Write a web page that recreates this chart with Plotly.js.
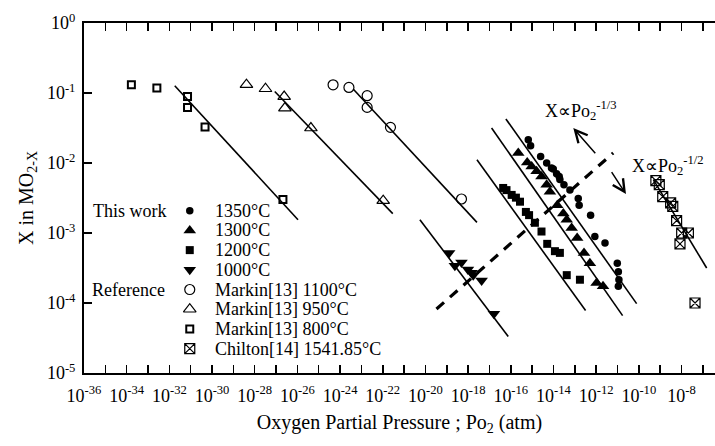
<!DOCTYPE html>
<html>
<head>
<meta charset="utf-8">
<script src="https://cdn.plot.ly/plotly-3.0.1.min.js"></script>
<style>html,body{margin:0;padding:0;background:#fff}#chart{width:715px;height:446px}</style>
</head>
<body>
<div id="chart"></div>
<script>
// ---- data ----
const x1350 = [6.6e-16, 8.5e-16, 2.5e-15, 4.8e-15, 8.1e-15, 9.8e-15, 1.4e-14, 1.86e-14, 2.0e-14, 3.1e-14, 5.9e-14, 1.45e-13, 1.6e-13, 5.5e-13, 8.7e-13, 2.6e-12, 9.8e-12, 1.1e-11, 1.17e-11, 1.1e-11];
const y1350 = [0.0215, 0.0177, 0.0124, 0.0100, 0.0085, 0.0082, 0.0070, 0.0064, 0.0058, 0.0049, 0.0041, 0.0031, 0.0025, 0.0018, 8.9e-4, 7.2e-4, 3.7e-4, 2.8e-4, 2.15e-4, 1.73e-4];
const x1300 = [2.24e-16, 5.9e-16, 9.5e-16, 1.62e-15, 2.75e-15, 4.8e-15, 6.8e-15, 1.5e-14, 2.9e-14, 4.2e-14, 7.1e-14, 1.29e-13, 2.7e-13, 5.1e-13, 1.05e-12, 2.1e-12];
const y1300 = [0.0139, 0.0102, 0.0089, 0.0076, 0.0064, 0.0049, 0.0039, 0.0025, 0.0019, 0.00155, 0.00118, 8.5e-4, 5.2e-4, 3.7e-4, 1.93e-4, 1.73e-4];
const x1200 = [4.4e-17, 6.3e-17, 1.1e-16, 1.74e-16, 2.7e-16, 5.1e-16, 7.2e-16, 1.35e-15, 2.75e-15, 5.1e-15, 1.17e-14, 2.0e-14, 4.2e-14, 1.74e-13];
const y1200 = [0.0044, 0.0041, 0.0035, 0.0032, 0.0028, 0.0020, 0.0018, 0.0014, 0.00105, 7.0e-4, 5.5e-4, 5.2e-4, 2.5e-4, 2.15e-4];
const x1000 = [1.29e-19, 2.4e-19, 4.9e-19, 9.8e-19, 1.45e-18, 1.74e-18, 4.3e-18, 1.62e-17];
const y1000 = [5.2e-4, 3.4e-4, 3.8e-4, 3.0e-4, 2.7e-4, 2.5e-4, 2.1e-4, 7.0e-5];
const xM1100 = [4.7e-25, 2.6e-24, 1.86e-23, 1.86e-23, 2.3e-22, 4.9e-19];
const yM1100 = [0.131, 0.120, 0.0915, 0.0623, 0.0323, 0.00306];
const xM950 = [4.1e-29, 3.2e-28, 2.4e-27, 2.6e-27, 4.3e-26, 1.05e-22];
const yM950 = [0.1315, 0.115, 0.089, 0.061, 0.0316, 0.0029];
const xM800 = [1.66e-34, 2.6e-33, 7.1e-32, 7.1e-32, 4.7e-31, 2.1e-27];
const yM800 = [0.131, 0.118, 0.089, 0.062, 0.0327, 0.0030];
const xChilton = [6.3e-10, 9.1e-10, 1.32e-9, 3.1e-9, 3.9e-9, 5.9e-9, 1.02e-8, 2.1e-8, 8.5e-9, 4.3e-8];
const yChilton = [0.0056, 0.0049, 0.0033, 0.0027, 0.0024, 0.0015, 0.0010, 0.0010, 7.0e-4, 1.0e-4];

// fitted lines: [start, end]
const fitX800 = [1.79e-32, 1.07e-26],  fitY800 = [0.127, 1.55e-3];
const fitX950 = [8.7e-28, 2.95e-22],  fitY950 = [0.105, 1.89e-3];
const fitX1100 = [4.1e-24, 2.6e-18], fitY1100 = [0.114, 1.42e-3];
const fitX1000 = [5.5e-21, 7.6e-17], fitY1000 = [1.55e-3, 3.33e-5];
const fitX1200 = [2.6e-18, 3.2e-13], fitY1200 = [0.0111, 7.8e-5];
const fitX1300 = [1.26e-17, 1.74e-11], fitY1300 = [0.0316, 6.6e-5];
const fitX1350 = [5.9e-17, 7.9e-11], fitY1350 = [0.0426, 9.8e-5];
const fitXChilton = [4.8e-10, 1.51e-7], fitYChilton = [5.8e-3, 3.16e-4];
const boundX = [3.3e-20, 6.3e-12], boundY = [8.2e-5, 0.0139];

// arrows: [tail, head]
const arrow13X = [1.05e-12, 8.5e-14], arrow13Y = [0.0131, 0.0316];
const arrow12X = [4.8e-12, 2.5e-11], arrow12Y = [0.0078, 0.0036];

const seriesNames = ['1350°C', '1300°C', '1200°C', '1000°C', 'Markin[13] 1100°C', 'Markin[13] 950°C', 'Markin[13] 800°C', 'Chilton[14] 1541.85°C'];
const groupLabels = ['This work', 'Reference'];
const slopeLabels = ['X∝Po<sub>2</sub><sup>-1/3</sup>', 'X∝Po<sub>2</sub><sup>-1/2</sup>'];

const xTickVals = [];
const xTickText = [];
for (let e = -36; e <= -7; e++) { xTickVals.push(Math.pow(10, e)); xTickText.push(e % 2 === 0 ? '10<sup>' + e + '</sup>' : ''); }
const yTickVals = [1, 1e-1, 1e-2, 1e-3, 1e-4, 1e-5];
const yTickText = ['10<sup>0</sup>', '10<sup>-1</sup>', '10<sup>-2</sup>', '10<sup>-3</sup>', '10<sup>-4</sup>', '10<sup>-5</sup>'];

// ---- styles ----
const FONT = 'Liberation Serif, Times New Roman, serif';
const K = '#000';
const styles = [
  {symbol: 'circle', size: 7.5, color: K, line: {width: 0}},
  {symbol: 'triangle-up', size: 11, color: K, line: {width: 0}},
  {symbol: 'square', size: 8, color: K, line: {width: 0}},
  {symbol: 'triangle-down', size: 11, color: K, line: {width: 0}},
  {symbol: 'circle-open', size: 10, color: K, line: {width: 1.2, color: K}},
  {symbol: 'triangle-up-open', size: 11, color: K, line: {width: 1.2, color: K}},
  {symbol: 'square-open', size: 7, color: K, line: {width: 2, color: K}},
  {symbol: 'square-x-open', size: 10, color: K, line: {width: 1.2, color: K}}
];
const dataX = [x1350, x1300, x1200, x1000, xM1100, xM950, xM800, xChilton];
const dataY = [y1350, y1300, y1200, y1000, yM1100, yM950, yM800, yChilton];

const traces = [];
const fits = [[fitX800, fitY800], [fitX950, fitY950], [fitX1100, fitY1100], [fitX1000, fitY1000], [fitX1200, fitY1200], [fitX1300, fitY1300], [fitX1350, fitY1350], [fitXChilton, fitYChilton]];
fits.forEach(f => traces.push({x: f[0], y: f[1], mode: 'lines', line: {color: K, width: 1.6}, showlegend: false, hoverinfo: 'skip'}));
traces.push({x: boundX, y: boundY, mode: 'lines', line: {color: K, width: 3.2, dash: '10px,8px'}, showlegend: false});
dataX.forEach((xs, i) => traces.push({x: xs, y: dataY[i], mode: 'markers', name: seriesNames[i], marker: styles[i], showlegend: false}));

// manual legend (overlay axes in plot fractions)
const legX = 0.1676, legY0 = 0.4637, legStep = 0.0563;
styles.forEach((s, i) => traces.push({x: [legX], y: [legY0 - i * legStep], xaxis: 'x2', yaxis: 'y2', mode: 'markers', marker: s, showlegend: false}));

const annotations = [];
const tf = (s) => ({family: FONT, size: s, color: K});
seriesNames.forEach((n, i) => annotations.push({xref: 'paper', yref: 'paper', x: 0.2045, y: legY0 - i * legStep, text: n, showarrow: false, xanchor: 'left', yanchor: 'middle', font: tf(18)}));
annotations.push({xref: 'paper', yref: 'paper', x: 0.0117, y: legY0, text: groupLabels[0], showarrow: false, xanchor: 'left', yanchor: 'middle', font: tf(18)});
annotations.push({xref: 'paper', yref: 'paper', x: 0.009, y: legY0 - 4 * legStep, text: groupLabels[1], showarrow: false, xanchor: 'left', yanchor: 'middle', font: tf(18)});
annotations.push({xref: 'paper', yref: 'paper', x: 0.7273, y: 0.75, text: slopeLabels[0], showarrow: false, xanchor: 'left', yanchor: 'middle', align: 'left', font: tf(18)});
annotations.push({xref: 'paper', yref: 'paper', x: 0.8652, y: 0.594, text: slopeLabels[1], showarrow: false, xanchor: 'left', yanchor: 'middle', align: 'left', font: tf(18)});
[[arrow13X, arrow13Y], [arrow12X, arrow12Y]].forEach(a => annotations.push({
  xref: 'x', yref: 'y', axref: 'x', ayref: 'y',
  x: Math.log10(a[0][1]), y: Math.log10(a[1][1]), ax: Math.log10(a[0][0]), ay: Math.log10(a[1][0]),
  text: '', showarrow: true, arrowhead: 5, arrowsize: 1.6, arrowwidth: 1.5, arrowcolor: K
}));

const layout = {
  width: 715, height: 446,
  margin: {l: 84.3, r: 0, t: 23.3, b: 72.7},
  paper_bgcolor: '#fff', plot_bgcolor: '#fff',
  font: {family: FONT, color: K, size: 17},
  showlegend: false,
  xaxis: {
    type: 'log', range: [-36, -6.43], tickmode: 'array', tickvals: xTickVals, ticktext: xTickText,
    ticks: 'inside', ticklen: 8, tickwidth: 1.5, tickcolor: K,
    showline: true, linewidth: 2, linecolor: K, mirror: 'ticks', showgrid: false, zeroline: false,
    tickfont: tf(18), ticklabelstandoff: 5,
    title: {text: 'Oxygen Partial Pressure ; Po<sub>2</sub> (atm)', font: tf(20), standoff: 10}
  },
  yaxis: {
    type: 'log', range: [-5, 0], tickmode: 'array', tickvals: yTickVals, ticktext: yTickText,
    ticks: 'inside', ticklen: 8, tickwidth: 1.5, tickcolor: K,
    showline: true, linewidth: 2, linecolor: K, showgrid: false, zeroline: false,
    tickfont: tf(18), ticklabelstandoff: 3,
    title: {text: 'X in MO<sub>2-X</sub>', font: tf(20), standoff: 8}
  },
  xaxis2: {overlaying: 'x', range: [0, 1], visible: false, fixedrange: true},
  yaxis2: {overlaying: 'y', range: [0, 1], visible: false, fixedrange: true},
  annotations: annotations
};

Plotly.newPlot('chart', traces, layout, {displayModeBar: false, staticPlot: true});
</script>
</body>
</html>
